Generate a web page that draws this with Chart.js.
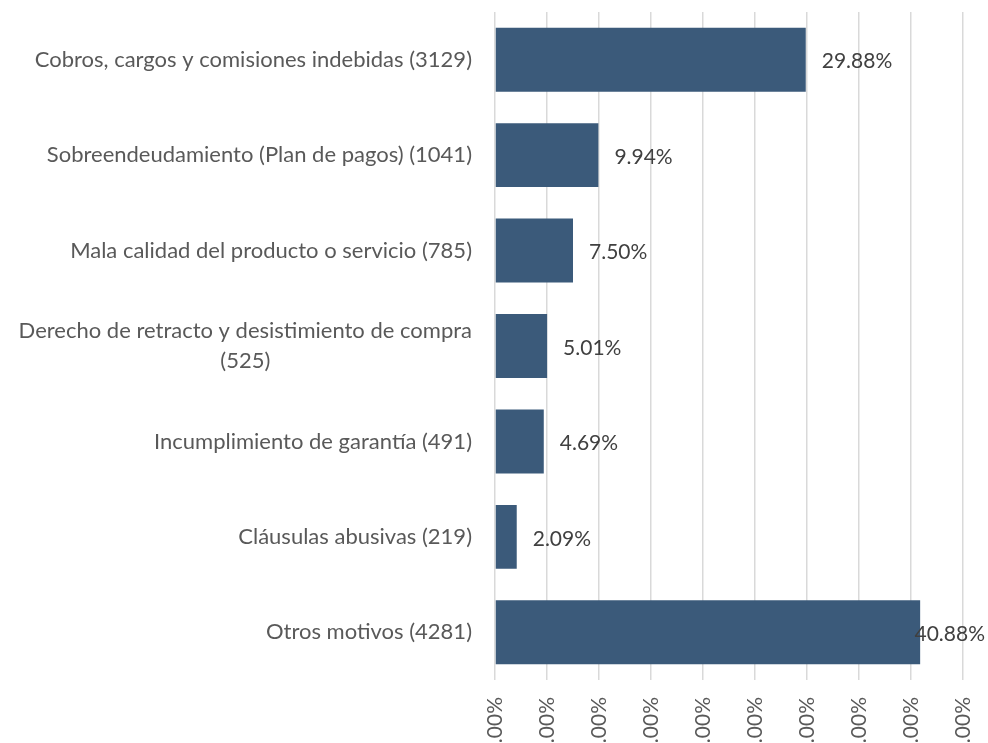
<!DOCTYPE html>
<html>
<head>
<meta charset="utf-8">
<script src="https://cdn.jsdelivr.net/npm/chart.js@4.4.1/dist/chart.umd.min.js"></script>
<style>
  html, body { margin: 0; padding: 0; background: #fff; overflow: hidden; }
  #wrap { width: 988px; height: 743px; overflow: hidden; }
  #box { width: 988px; height: 800px; }
</style>
</head>
<body>
<div id="wrap"><div id="box"><canvas id="chart"></canvas></div></div>
<script>
// Data
const categories = [
  'Cobros, cargos y comisiones indebidas (3129)',
  'Sobreendeudamiento (Plan de pagos) (1041)',
  'Mala calidad del producto o servicio (785)',
  ['Derecho de retracto y desistimiento de compra', '(525)'],
  'Incumplimiento de garantía (491)',
  'Cláusulas abusivas (219)',
  'Otros motivos (4281)'
];
const shares = [29.88, 9.94, 7.50, 5.01, 4.69, 2.09, 40.88];
const xMin = 0;
const xMax = 45;
const xStep = 5;

const FONT = 'Lato, "Open Sans", sans-serif';
const CAT_SIZE = 22;
const VALUE_SIZE = 21;

// category labels drawn by hand so that wrapped lines stay centred like Excel
const categoryLabels = {
  id: 'categoryLabels',
  afterDraw(chart) {
    const ctx = chart.ctx;
    const yScale = chart.scales.y;
    const right = chart.chartArea.left - 23;
    ctx.save();
    ctx.font = CAT_SIZE + 'px ' + FONT;
    ctx.fillStyle = '#595959';
    ctx.textAlign = 'center';
    ctx.textBaseline = 'middle';
    categories.forEach(function (label, i) {
      const lines = Array.isArray(label) ? label : [label];
      const maxW = Math.max.apply(null, lines.map(function (l) { return ctx.measureText(l).width; }));
      const cx = right - maxW / 2;
      const y = yScale.getPixelForValue(i);
      lines.forEach(function (line, j) {
        ctx.fillText(line, cx, y + (j - (lines.length - 1) / 2) * 30);
      });
    });
    ctx.restore();
  }
};

// value labels at the end of each bar
const valueLabels = {
  id: 'valueLabels',
  afterDatasetsDraw(chart) {
    const ctx = chart.ctx;
    const meta = chart.getDatasetMeta(0);
    ctx.save();
    ctx.font = VALUE_SIZE + 'px ' + FONT;
    ctx.fillStyle = '#404040';
    ctx.textAlign = 'left';
    ctx.textBaseline = 'middle';
    meta.data.forEach(function (bar, i) {
      const text = shares[i].toFixed(2) + '%';
      const w = ctx.measureText(text).width;
      let x = bar.x + 16;
      if (x + w > chart.width - 3) x = chart.width - 3 - w;
      ctx.fillText(text, x, bar.y + 2);
    });
    ctx.restore();
  }
};

const ctx = document.getElementById('chart').getContext('2d');
new Chart(ctx, {
  type: 'bar',
  data: {
    labels: categories,
    datasets: [{
      data: shares,
      backgroundColor: '#3b5a7a',
      borderWidth: 0,
      barPercentage: 0.67,
      categoryPercentage: 1
    }]
  },
  options: {
    indexAxis: 'y',
    responsive: true,
    maintainAspectRatio: false,
    animation: false,
    layout: { padding: { top: 12, right: 25, left: 0, bottom: 0 } },
    plugins: {
      legend: { display: false },
      tooltip: { enabled: false }
    },
    scales: {
      x: {
        min: xMin,
        max: xMax,
        afterFit: function (s) {
          s.height = 120;
          s.paddingLeft = 0;
          s.paddingRight = 0;
        },
        border: { display: false },
        grid: { color: '#d9d9d9', lineWidth: 1.5, drawTicks: false },
        ticks: {
          stepSize: xStep,
          minRotation: 90,
          maxRotation: 90,
          padding: 17,
          color: '#595959',
          font: { family: FONT, size: VALUE_SIZE },
          callback: function (v) { return v.toFixed(2) + '%'; }
        }
      },
      y: {
        afterFit: function (s) { s.width = 495; },
        border: { display: false },
        grid: { display: false },
        ticks: { display: false }
      }
    }
  },
  plugins: [categoryLabels, valueLabels]
});
</script>
</body>
</html>
